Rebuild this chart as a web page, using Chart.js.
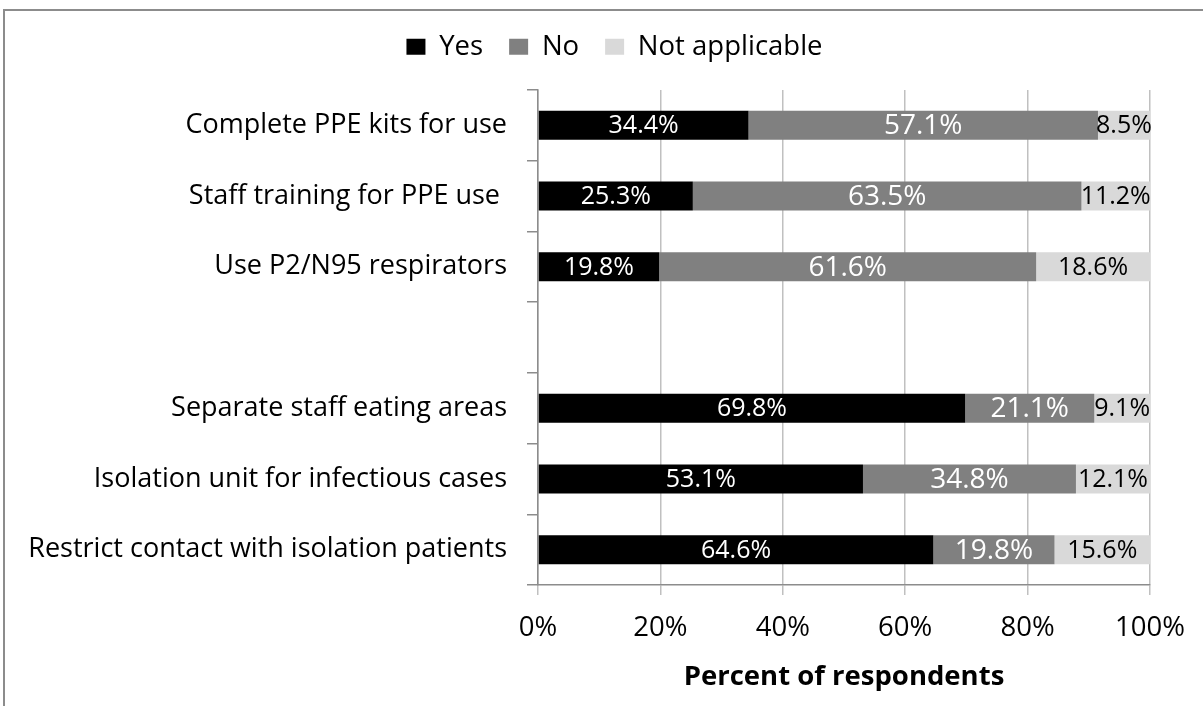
<!DOCTYPE html>
<html>
<head>
<meta charset="utf-8">
<script src="https://cdn.jsdelivr.net/npm/chart.js@4.4.1/dist/chart.umd.min.js"></script>
<style>
  html, body { margin: 0; padding: 0; background: #ffffff; overflow: hidden; }
  #wrap { position: relative; width: 1203px; height: 706px; }
  #frame { position: absolute; left: 3px; top: 9px; width: 1300px; height: 800px;
           border-top: 2px solid #8c8c8c; border-left: 2px solid #8c8c8c; box-sizing: border-box; }
  canvas { position: absolute; left: 0; top: 0; }
</style>
</head>
<body>
<div id="wrap">
  <div id="frame"></div>
  <canvas id="c" width="1203" height="706"></canvas>
</div>
<script>
// ---- data ----
const categories = [
  "Complete PPE kits for use",
  "Staff training for PPE use ",
  "Use P2/N95 respirators",
  "",
  "Separate staff eating areas",
  "Isolation unit for infectious cases",
  "Restrict contact with isolation patients"
];
const seriesNames = ["Yes", "No", "Not applicable"];
const yesValues = [34.4, 25.3, 19.8, null, 69.8, 53.1, 64.6];
const noValues  = [57.1, 63.5, 61.6, null, 21.1, 34.8, 19.8];
const naValues  = [8.5, 11.2, 18.6, null, 9.1, 12.1, 15.6];
const xTicks = [0, 20, 40, 60, 80, 100];
const axisTitle = "Percent of respondents";

// ---- styles ----
const FONT = "'Open Sans', sans-serif";
const barColors = ["#000000", "#808080", "#d9d9d9"];
const labelColors = ["#ffffff", "#ffffff", "#000000"];
const labelSizes = [25, 28, 25];

const dataLabelPlugin = {
  id: 'dataLabels',
  afterDatasetsDraw(chart) {
    const ctx = chart.ctx;
    ctx.save();
    ctx.textAlign = 'center';
    ctx.textBaseline = 'middle';
    chart.data.datasets.forEach((ds, i) => {
      const meta = chart.getDatasetMeta(i);
      ctx.fillStyle = labelColors[i];
      ctx.font = labelSizes[i] + "px " + FONT;
      meta.data.forEach((el, j) => {
        const v = ds.data[j];
        if (v === null || v === undefined) return;
        const x = (el.x + el.base) / 2;
        ctx.fillText(v.toFixed(1) + '%', x, el.y + 1);
      });
    });
    ctx.restore();
  }
};

const legendHeightPlugin = {
  id: 'legendHeight',
  beforeLayout(chart) {
    const lg = chart.legend;
    if (lg && !lg._patched) {
      const orig = lg.fit;
      lg.fit = function () { orig.call(this); this.height = 83; };
      lg._patched = true;
    }
  }
};

const valueSets = [yesValues, noValues, naValues];
const datasets = seriesNames.map((name, i) => ({
  label: name,
  data: valueSets[i],
  backgroundColor: barColors[i],
  borderWidth: 0,
  barPercentage: 0.41,
  categoryPercentage: 1.0
}));

new Chart(document.getElementById('c'), {
  type: 'bar',
  data: { labels: categories, datasets: datasets },
  plugins: [dataLabelPlugin, legendHeightPlugin],
  options: {
    indexAxis: 'y',
    responsive: false,
    animation: false,
    layout: { padding: { left: 26, right: 0, top: 7, bottom: 12 } },
    plugins: {
      tooltip: { enabled: false },
      legend: {
        position: 'top',
        labels: {
          color: '#000000',
          font: { family: FONT, size: 27.5 },
          boxWidth: 19,
          boxHeight: 16,
          padding: 26
        }
      }
    },
    scales: {
      x: {
        stacked: true,
        min: 0, max: 100,
        afterBuildTicks(scale) { scale.ticks = xTicks.map(v => ({ value: v })); },
        afterFit(scale) { scale.paddingRight = 53; scale.paddingLeft = 0; scale.height = 109; },
        ticks: {
          color: '#000000',
          font: { family: FONT, size: 27.5 },
          padding: 17,
          maxRotation: 0,
          callback: v => v + '%'
        },
        grid: { color: '#c0c0c0', lineWidth: 1.5, tickLength: 10 },
        border: { color: '#8c8c8c', width: 1.5 },
        title: {
          display: true,
          text: axisTitle,
          color: '#000000',
          font: { family: FONT, size: 27.5, weight: 'bold' },
          padding: { top: 0, bottom: 0 }
        }
      },
      y: {
        stacked: true,
        afterFit(scale) { scale.width = 512; },
        ticks: {
          color: '#000000',
          font: { family: FONT, size: 27 },
          padding: 20
        },
        grid: { offset: true, drawOnChartArea: false, color: '#8c8c8c', lineWidth: 1.5, tickLength: 11 },
        border: { color: '#8c8c8c', width: 1.5 }
      }
    }
  }
});
</script>
</body>
</html>
